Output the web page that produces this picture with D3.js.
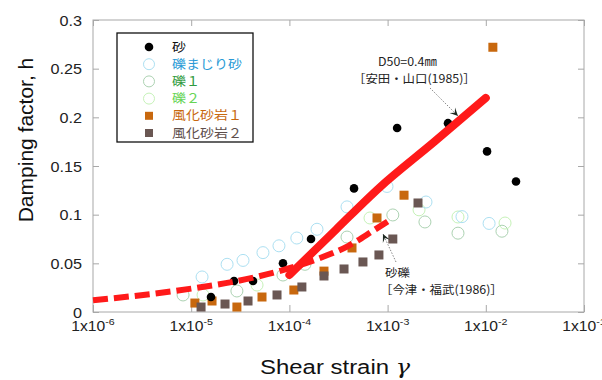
<!DOCTYPE html>
<html><head><meta charset="utf-8">
<script src="https://cdn.jsdelivr.net/npm/d3@7"></script>
<style>
html,body{margin:0;padding:0;background:#fff;}
svg{display:block;}
</style></head>
<body>
<svg id="chart" width="602" height="380"></svg>
<script>
// Damping factor h versus shear strain for several soils
const xTicks = [1e-6, 1e-5, 1e-4, 1e-3, 1e-2, 1e-1];
const xTickExp = ["-6", "-5", "-4", "-3", "-2", "-1"];
const yTicks = [0, 0.05, 0.1, 0.15, 0.2, 0.25, 0.3];
const yTickLabels = ["0", "0.05", "0.1", "0.15", "0.2", "0.25", "0.3"];

const seriesNames = ["砂", "礫まじり砂", "礫１", "礫２", "風化砂岩１", "風化砂岩２"];

// 砂
const sandStrain = [1.59e-5, 2.73e-5, 4.26e-5, 8.6e-5, 1.66e-4, 4.55e-4, 1.25e-3, 4.12e-3, 1.03e-2, 2.03e-2];
const sandH      = [0.0154, 0.0319, 0.0319, 0.050, 0.075, 0.127, 0.189, 0.194, 0.165, 0.134];
// 礫まじり砂
const gsStrain = [1.29e-5, 2.32e-5, 3.37e-5, 5.38e-5, 7.83e-5, 1.19e-4, 1.91e-4, 3.86e-4, 9.86e-4, 2.46e-3, 5.72e-3, 1.08e-2];
const gsH      = [0.036, 0.049, 0.053, 0.061, 0.068, 0.076, 0.085, 0.108, 0.129, 0.113, 0.098, 0.091];
// 礫１
const g1Strain = [8.26e-6, 2.92e-5, 8.6e-5, 1.44e-4, 3.86e-4, 1.13e-3, 2.4e-3, 5.21e-3, 1.46e-2];
const g1H      = [0.0175, 0.0216, 0.038, 0.049, 0.077, 0.0997, 0.0925, 0.081, 0.083];
// 礫２
const g2Strain = [1.32e-5, 4.68e-5, 6.62e-4, 2.09e-3, 5.21e-3, 1.57e-2];
const g2H      = [0.0175, 0.0277, 0.0966, 0.105, 0.0976, 0.0914];
// 風化砂岩１
const ws1Strain = [1.09e-5, 1.63e-5, 2.92e-5, 5.26e-5, 1.11e-4, 2.25e-4, 4.34e-4, 7.8e-4, 1.47e-3, 1.18e-2];
const ws1H      = [0.0092, 0.0113, 0.0051, 0.0154, 0.0226, 0.042, 0.0658, 0.0966, 0.120, 0.272];
// 風化砂岩２
const ws2Strain = [1.26e-5, 2.21e-5, 3.79e-5, 7.48e-5, 1.34e-4, 2.25e-4, 3.6e-4, 5.61e-4, 8.16e-4, 1.13e-3, 2.04e-3];
const ws2H      = [0.0051, 0.0082, 0.0113, 0.0175, 0.0257, 0.037, 0.0442, 0.0514, 0.0586, 0.075, 0.112];

// 安田・山口(1985) curve, D50=0.4mm
const yasudaStrain = [1e-4, 3e-4, 8.3e-4, 3e-3, 1e-2];
const yasudaH      = [0.038, 0.085, 0.128, 0.175, 0.22];
// 今津・福武(1986) curve, 砂礫
const imazuStrain = [1e-6, 1e-5, 3e-5, 1e-4, 2e-4, 4e-4, 7e-4, 1e-3];
const imazuH      = [0.012, 0.024, 0.032, 0.045, 0.055, 0.068, 0.083, 0.093];

const svg = d3.select("#chart");
const plotL = 93, plotR = 584, plotT = 20, plotB = 312;
const x = d3.scaleLog().domain([1e-6, 1e-1]).range([plotL, plotR]);
const y = d3.scaleLinear().domain([0, 0.3]).range([plotB, plotT]);

const frameColor = "#a8a8a8";
const numFont = "'Liberation Sans', Arial, sans-serif";
const jpFont = "'Noto Sans CJK JP', sans-serif";

// frame
svg.append("rect").attr("x", plotL).attr("y", plotT)
  .attr("width", plotR - plotL).attr("height", plotB - plotT)
  .attr("fill", "none").attr("stroke", frameColor).attr("stroke-width", 1);

// inward ticks on all four sides
function styleAxis(g) {
  g.select(".domain").remove();
  g.selectAll(".tick line").attr("stroke", frameColor);
  g.selectAll(".tick text").remove();
}
svg.append("g").attr("transform", `translate(0,${plotB})`)
  .call(d3.axisBottom(x).tickValues(xTicks).tickSize(-7)).call(styleAxis);
svg.append("g").attr("transform", `translate(0,${plotT})`)
  .call(d3.axisTop(x).tickValues(xTicks).tickSize(-6)).call(styleAxis);
svg.append("g").attr("transform", `translate(${plotL},0)`)
  .call(d3.axisLeft(y).tickValues(yTicks).tickSize(-6)).call(styleAxis);
svg.append("g").attr("transform", `translate(${plotR},0)`)
  .call(d3.axisRight(y).tickValues(yTicks).tickSize(-6)).call(styleAxis);

// x tick labels 1x10^n
xTicks.forEach((v, i) => {
  const g = svg.append("g").attr("transform", `translate(${x(v)},331) scale(1.12,1)`);
  const t = g.append("text").attr("text-anchor", "middle")
    .attr("font-family", numFont).attr("font-size", 14).attr("fill", "#222");
  t.append("tspan").text("1x10");
  t.append("tspan").attr("font-size", 9.5).attr("dy", -6).text(xTickExp[i]);
});

// y tick labels
yTicks.forEach((v, i) => {
  svg.append("g").attr("transform", `translate(82,${y(v) + 5.5}) scale(1.08,1)`)
    .append("text").attr("text-anchor", "end")
    .attr("font-family", numFont).attr("font-size", 15).attr("fill", "#222")
    .text(yTickLabels[i]);
});

// axis titles
const xt = svg.append("g").attr("transform", "translate(335,374) scale(1.14,1)")
  .append("text").attr("text-anchor", "middle")
  .attr("font-family", numFont).attr("font-size", 21).attr("fill", "#111");
xt.append("tspan").text("Shear strain ");
xt.append("tspan").attr("font-family", "'DejaVu Serif', 'Liberation Serif', serif")
  .attr("font-style", "italic").text("γ");
svg.append("text").attr("transform", "translate(33,140) rotate(-90)")
  .attr("text-anchor", "middle")
  .attr("font-family", numFont).attr("font-size", 21).attr("fill", "#111")
  .text("Damping factor, h");

const plot = svg.append("g");
const zip = (a, b) => a.map((d, i) => [d, b[i]]);

function circles(xs, ys, color) {
  plot.append("g").selectAll("circle").data(zip(xs, ys)).join("circle")
    .attr("cx", d => x(d[0])).attr("cy", d => y(d[1])).attr("r", 6)
    .attr("fill", "none").attr("stroke", color).attr("stroke-width", 1);
}
function squares(xs, ys, color) {
  plot.append("g").selectAll("rect").data(zip(xs, ys)).join("rect")
    .attr("x", d => x(d[0]) - 4.5).attr("y", d => y(d[1]) - 4.5)
    .attr("width", 9).attr("height", 9).attr("fill", color);
}

const cGS = "#ace0f2", cG1 = "#acd2b2", cG2 = "#c6f2b8";
const cWS1 = "#c8680e", cWS2 = "#6a5753";

circles(g1Strain, g1H, cG1);
circles(g2Strain, g2H, cG2);
circles(gsStrain, gsH, cGS);
squares(ws1Strain, ws1H, cWS1);
squares(ws2Strain, ws2H, cWS2);
plot.append("g").selectAll("circle").data(zip(sandStrain, sandH)).join("circle")
  .attr("cx", d => x(d[0])).attr("cy", d => y(d[1])).attr("r", 4.3).attr("fill", "#000");

// reference curves
const line = d3.line().x(d => x(d[0])).y(d => y(d[1])).curve(d3.curveMonotoneX);
plot.append("path").datum(zip(imazuStrain, imazuH)).attr("d", line)
  .attr("fill", "none").attr("stroke", "#ff1a1a").attr("stroke-width", 6)
  .attr("stroke-dasharray", "15,6");
plot.append("path").datum(zip(yasudaStrain, yasudaH)).attr("d", line)
  .attr("fill", "none").attr("stroke", "#ff1a1a").attr("stroke-width", 8)
  .attr("stroke-linecap", "round");

// annotations
function leader(x1, y1, x2, y2) {
  svg.append("line").attr("x1", x1).attr("y1", y1).attr("x2", x2).attr("y2", y2)
    .attr("stroke", "#888").attr("stroke-width", 1).attr("stroke-dasharray", "1.5,1.5");
  const ang = Math.atan2(y2 - y1, x2 - x1);
  const L = 9, w = 0.45;
  const p = [
    [x2, y2],
    [x2 - L * Math.cos(ang - w), y2 - L * Math.sin(ang - w)],
    [x2 - 0.5 * L * Math.cos(ang), y2 - 0.5 * L * Math.sin(ang)],
    [x2 - L * Math.cos(ang + w), y2 - L * Math.sin(ang + w)]
  ];
  svg.append("path").attr("d", "M" + p.map(q => q.join(",")).join("L") + "Z")
    .attr("fill", "#1f2a22");
}
leader(430, 88, 458, 116);
leader(396, 262, 383, 234);

function note(tx, ty, str) {
  svg.append("g").attr("transform", `translate(${tx},${ty}) scale(1.08,1)`)
    .append("text").attr("font-family", jpFont).attr("font-size", 11.5)
    .attr("fill", "#222").text(str);
}
note(378, 66, "D50=0.4㎜");
note(353, 83, "［安田・山口(1985)］");
note(385, 277, "砂礫");
note(380, 294, "［今津・福武(1986)］");

// legend
const lg = svg.append("g");
lg.append("rect").attr("x", 117).attr("y", 33).attr("width", 136).attr("height", 109)
  .attr("fill", "#fff").attr("stroke", "#111").attr("stroke-width", 1.3);
const textColors = ["#111", "#2a9ad6", "#2f9a40", "#66d455", "#c8680e", "#5e4e4b"];
seriesNames.forEach((name, i) => {
  const cy = 47 + i * 17.2;
  if (i === 0) lg.append("circle").attr("cx", 149).attr("cy", cy).attr("r", 4.3).attr("fill", "#000");
  else if (i <= 3) lg.append("circle").attr("cx", 149).attr("cy", cy).attr("r", 5.5)
    .attr("fill", "none").attr("stroke", [cGS, cG1, cG2][i - 1]).attr("stroke-width", 1);
  else lg.append("rect").attr("x", 145).attr("y", cy - 4).attr("width", 8).attr("height", 8)
    .attr("fill", i === 4 ? cWS1 : cWS2);
  lg.append("g").attr("transform", `translate(172,${cy + 4.5}) scale(1.12,1)`)
    .append("text").attr("font-family", jpFont).attr("font-size", 12.5)
    .attr("fill", textColors[i]).text(name);
});
</script>
</body></html>
